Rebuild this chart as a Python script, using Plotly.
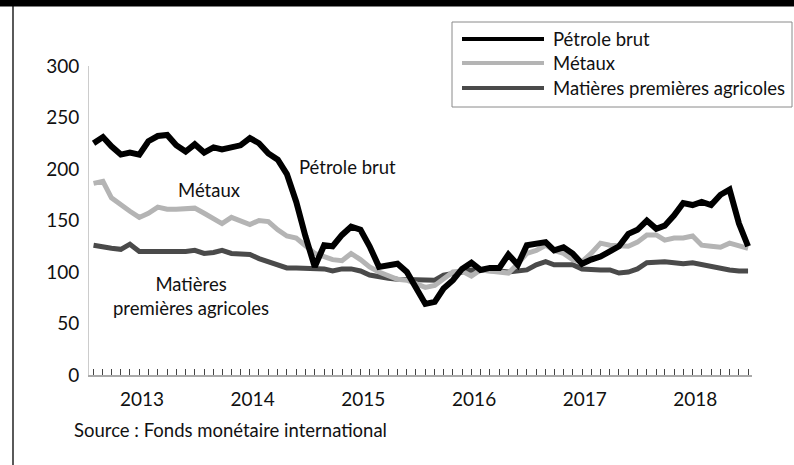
import pandas as pd
import plotly.graph_objects as go

months = pd.date_range("2013-01-01", "2018-12-01", freq="MS")

petrole = [225, 231, 222, 214, 216, 214, 227, 232, 233, 223, 217, 224,
           216, 221, 219, 221, 223, 230, 225, 215, 209, 195, 168, 135,
           105, 126, 125, 136, 144, 141, 125, 105, 107, 108, 100, 86,
           69, 71, 84, 92, 103, 109, 102, 104, 104, 117, 107, 126,
           128, 129, 121, 124, 118, 108, 112, 115, 120, 125, 137, 141,
           150, 142, 145, 155, 167, 165, 168, 165, 175, 180, 147, 125]

metaux = [186, 188, 172, 165, 159, 153, 157, 163, 161, 161, 162, 162,
          157, 152, 147, 153, 150, 146, 150, 149, 141, 135, 133, 126,
          118, 115, 112, 111, 118, 112, 105, 100, 97, 93, 92, 89,
          85, 87, 94, 100, 101, 96, 102, 101, 99, 99, 108, 118,
          121, 126, 121, 118, 112, 110, 118, 128, 126, 125, 125, 129,
          136, 136, 131, 133, 133, 135, 126, 125, 124, 128, 126, 123]

agricoles = [126, 124, 123, 122, 127, 120, 120, 120, 119, 119, 120, 121,
             118, 119, 121, 118, 117, 117, 113, 110, 106, 104, 104, 104,
             104, 103, 101, 103, 103, 101, 97, 95, 94, 93, 93, 92,
             92, 92, 97, 98, 100, 102, 102, 101, 101, 100, 101, 102,
             107, 110, 107, 107, 107, 103, 102, 102, 102, 99, 100, 103,
             109, 110, 110, 109, 108, 109, 107, 105, 104, 102, 101, 101]

year_labels = ["2013", "2014", "2015", "2016", "2017", "2018"]
year_label_pos = [f"{y}-06-10" for y in year_labels]
y_ticks = [0, 50, 100, 150, 200, 250, 300]

series_names = ["Pétrole brut", "Métaux", "Matières premières agricoles"]
series_colors = ["#000000", "#b4b4b4", "#4a4a4a"]

FONT = "Lato"
W, H = 794, 465
L, R, T, B = 89, 752, 66, 375


def px(x):
    return (x - L) / (R - L)


def py(y):
    return (B - y) / (B - T)


fig = go.Figure()
fig.add_trace(go.Scatter(x=months, y=agricoles, mode="lines", name=series_names[2],
                         line=dict(color=series_colors[2], width=5)))
fig.add_trace(go.Scatter(x=months, y=metaux, mode="lines", name=series_names[1],
                         line=dict(color=series_colors[1], width=5)))
fig.add_trace(go.Scatter(x=months, y=petrole, mode="lines", name=series_names[0],
                         line=dict(color=series_colors[0], width=6)))

shapes = []
# top black band
shapes.append(dict(type="rect", xref="paper", yref="paper", x0=px(-5), x1=px(W + 5),
                   y0=py(6.5), y1=py(-5), fillcolor="black", line=dict(width=0), layer="above"))
# left frame line
shapes.append(dict(type="line", xref="paper", yref="paper", x0=px(13), x1=px(13),
                   y0=py(0), y1=py(H + 5), line=dict(color="black", width=1.3)))
# legend box
shapes.append(dict(type="rect", xref="paper", yref="paper", x0=px(452), x1=px(792),
                   y0=py(107), y1=py(22), fillcolor="white",
                   line=dict(color="#8a8a8a", width=1)))
annotations = []
rows = [39, 63, 88]
for name, col, yy in zip(series_names, series_colors, rows):
    shapes.append(dict(type="line", xref="paper", yref="paper", x0=px(462), x1=px(544),
                       y0=py(yy), y1=py(yy), line=dict(color=col, width=4)))
    annotations.append(dict(xref="paper", yref="paper", x=px(551), y=py(yy), text=name,
                            showarrow=False, xanchor="left", yanchor="middle",
                            font=dict(family=FONT, size=18.5, color="#111")))

annotations += [
    dict(xref="paper", yref="paper", x=px(297), y=py(167), text="Pétrole brut",
         showarrow=False, xanchor="left", yanchor="middle",
         font=dict(family=FONT, size=18.5, color="#111")),
    dict(xref="paper", yref="paper", x=px(209), y=py(190), text="Métaux",
         showarrow=False, xanchor="center", yanchor="middle",
         font=dict(family=FONT, size=18.5, color="#111")),
    dict(xref="paper", yref="paper", x=px(191), y=py(296), text="Matières<br>premières agricoles",
         showarrow=False, xanchor="center", yanchor="middle", align="center",
         font=dict(family=FONT, size=18.5, color="#111")),
    dict(xref="paper", yref="paper", x=px(72), y=py(430),
         text="Source : Fonds monétaire international",
         showarrow=False, xanchor="left", yanchor="middle",
         font=dict(family=FONT, size=18.5, color="#111")),
]

fig.update_layout(
    width=W, height=H,
    margin=dict(l=L, r=W - R, t=T, b=H - B, pad=0),
    paper_bgcolor="white", plot_bgcolor="white",
    showlegend=False,
    font=dict(family=FONT, size=19, color="#111"),
    shapes=shapes, annotations=annotations,
    xaxis=dict(
        range=["2012-12-17", "2018-12-14"],
        tickmode="array", tickvals=year_label_pos, ticktext=year_labels,
        ticks="", showgrid=False, zeroline=False,
        showline=True, linecolor="#aaaaaa", linewidth=1.5,
        tickfont=dict(family=FONT, size=19, color="#111"),
        ticklabelstandoff=6,
        minor=dict(tickmode="linear", tick0="2013-01-01", dtick="M1",
                   ticks="inside", ticklen=6, tickwidth=1, tickcolor="#444",
                   showgrid=False),
    ),
    yaxis=dict(
        range=[0, 300], tickmode="array", tickvals=y_ticks,
        ticks="", showgrid=False, zeroline=False,
        showline=True, linecolor="#cccccc", linewidth=1,
        tickfont=dict(family=FONT, size=19, color="#111"),
        ticklabelstandoff=5,
    ),
)

fig.write_html("out.html", config={"displayModeBar": False},
               post_script="document.body.style.margin='0';document.body.style.padding='0';")
